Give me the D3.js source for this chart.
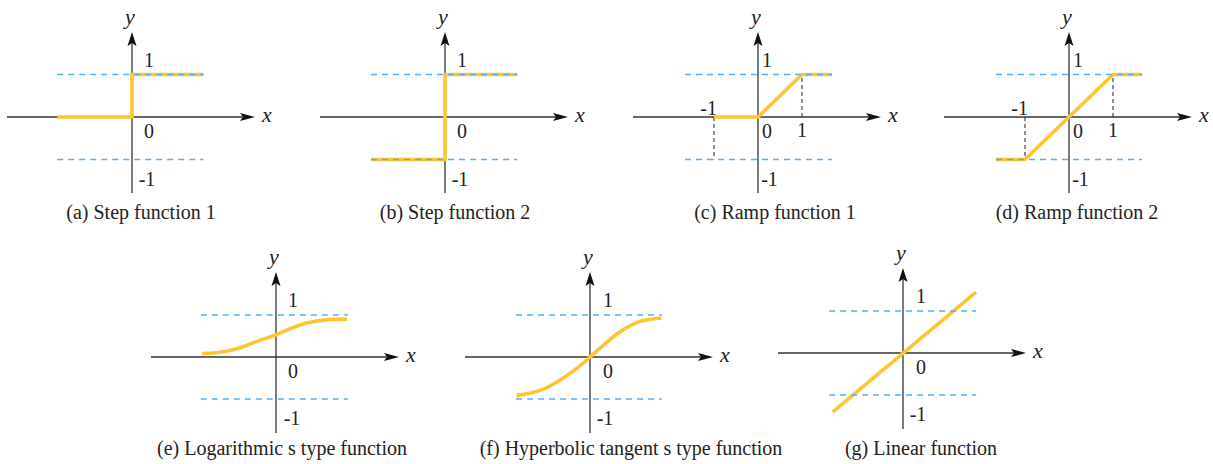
<!DOCTYPE html>
<html>
<head>
<meta charset="utf-8">
<script src="https://cdn.jsdelivr.net/npm/d3@7"></script>
<style>
  body { margin: 0; background: #fff; }
  svg { display: block; }
  .axis-line { stroke: #333; stroke-width: 1.3; fill: none; }
  .arrow { fill: #111; }
  .guide { stroke: #4db3f6; stroke-width: 1.3; stroke-dasharray: 6 5; fill: none; }
  .drop { stroke: #333; stroke-width: 1.1; stroke-dasharray: 4 3; fill: none; }
  .curve { stroke: #fdc531; stroke-width: 3.6; fill: none; stroke-linejoin: miter; }
</style>
</head>
<body>
<div id="chart"></div>
<script>
// captions of the seven sub-figures
const captions = [
  '(a) Step function 1',
  '(b) Step function 2',
  '(c) Ramp function 1',
  '(d) Ramp function 2',
  '(e) Logarithmic s type function',
  '(f) Hyperbolic tangent s type function',
  '(g) Linear function'
];

// function values, [x, y] in axis units
const stepOne = [[-1.76, 0], [0, 0], [0, 1], [1.68, 1]];
const stepTwo = [[-1.74, -1], [0, -1], [0, 1], [1.7, 1]];
const rampOne = [[-1, 0], [0, 0], [1, 1], [1.68, 1]];
const rampTwo = [[-1.66, -1], [-1, -1], [1, 1], [1.66, 1]];
const logSig = [[-1.76, 0.08], [-1.29, 0.12], [-0.89, 0.21], [-0.49, 0.36], [0, 0.53],
  [0.38, 0.69], [0.78, 0.82], [1.25, 0.89], [1.69, 0.9]];
const tanSig = [[-1.75, -0.92], [-1.17, -0.79], [-0.7, -0.54], [-0.3, -0.26], [0, 0],
  [0.33, 0.29], [0.73, 0.61], [1.2, 0.85], [1.7, 0.93]];
const linear = [[-1.67, -1.4], [1.74, 1.45]];

const series = [stepOne, stepTwo, rampOne, rampTwo, logSig, tanSig, linear];
const smooth = [false, false, false, false, true, true, false];

// guide lines y = 1 / y = -1 span (x units)
const guideSpan = [[-1.76, 1.68], [-1.74, 1.7], [-1.66, 1.68], [-1.66, 1.66],
  [-1.79, 1.71], [-1.76, 1.71], [-1.76, 1.74]];
// ramp breakpoints with vertical drop lines
const drops = [[], [], [[-1, -1], [1, 1]], [[-1, -1], [1, 1]], [], [], []];
// tick labels along x
const xTicks = [[], [], [-1, 1], [-1, 1], [], [], []];

// layout: origin, unit sizes and label offsets (pixels)
const layout = [
  {ox: 132, oy: 117, ux: 42.5, uy: 42.5, lx: 17, nx: 15, cx: 141},
  {ox: 445, oy: 117, ux: 42.5, uy: 42.5, lx: 17, nx: 15, cx: 455},
  {ox: 758, oy: 117, ux: 44, uy: 42.5, lx: 9, nx: 11.5, cx: 775},
  {ox: 1069, oy: 117, ux: 44, uy: 42.5, lx: 9, nx: 11.5, cx: 1077},
  {ox: 276, oy: 357, ux: 42, uy: 42, lx: 17, nx: 16, cx: 282},
  {ox: 590, oy: 357, ux: 42, uy: 42, lx: 18, nx: 15, cx: 631},
  {ox: 903, oy: 353, ux: 42, uy: 42, lx: 18, nx: 15, cx: 921}
];
const captionY = [219, 219, 219, 219, 455, 455, 455];

const FONT = 'Liberation Serif';
const width = 1213, height = 464;

const svg = d3.select('#chart')
  .append('svg')
  .attr('width', width)
  .attr('height', height);

// small helper for text nodes
function label(g, x, y, txt, size, anchor, italic) {
  return g.append('text')
    .attr('x', x).attr('y', y)
    .attr('font-family', FONT)
    .attr('font-size', size)
    .attr('font-style', italic ? 'italic' : 'normal')
    .attr('fill', '#222')
    .attr('text-anchor', anchor)
    .text(txt);
}

layout.forEach((p, i) => {
  const x = d3.scaleLinear().domain([-1, 1]).range([p.ox - p.ux, p.ox + p.ux]);
  const y = d3.scaleLinear().domain([-1, 1]).range([p.oy + p.uy, p.oy - p.uy]);
  const g = svg.append('g').attr('class', `panel panel-${i}`);

  const line = d3.line()
    .x(d => x(d[0]))
    .y(d => y(d[1]))
    .curve(smooth[i] ? d3.curveCatmullRom : d3.curveLinear);

  // axes
  const xLeft = p.ox - 125, xTip = p.ox + 123;
  const yTop = p.oy - 85, yBottom = p.oy + 76;
  g.append('line').attr('class', 'axis-line')
    .attr('x1', xLeft).attr('x2', xTip - 8).attr('y1', p.oy).attr('y2', p.oy);
  g.append('line').attr('class', 'axis-line')
    .attr('x1', p.ox).attr('x2', p.ox).attr('y1', yBottom).attr('y2', yTop + 8);
  g.append('path').attr('class', 'arrow')
    .attr('d', `M${xTip},${p.oy}L${xTip - 15},${p.oy - 4}L${xTip - 12},${p.oy}L${xTip - 15},${p.oy + 4}Z`);
  g.append('path').attr('class', 'arrow')
    .attr('d', `M${p.ox},${yTop}L${p.ox - 4.5},${yTop + 14}L${p.ox},${yTop + 11}L${p.ox + 4.5},${yTop + 14}Z`);

  // drop lines for ramp breakpoints
  g.selectAll('.drop')
    .data(drops[i])
    .enter()
    .append('line')
    .attr('class', 'drop')
    .attr('x1', d => x(d[0])).attr('x2', d => x(d[0]))
    .attr('y1', y(0)).attr('y2', d => y(d[1]));

  // function curve
  g.append('path')
    .datum(series[i])
    .attr('class', 'curve')
    .attr('d', line);

  // guide lines at y = 1 and y = -1
  g.selectAll('.guide')
    .data([1, -1])
    .enter()
    .append('line')
    .attr('class', 'guide')
    .attr('x1', x(guideSpan[i][0])).attr('x2', x(guideSpan[i][1]))
    .attr('y1', d => y(d)).attr('y2', d => y(d));

  // labels
  label(g, p.ox - 2, p.oy - 93, 'y', 22, 'middle', true);
  label(g, xTip + 7, p.oy + 5, 'x', 22, 'start', true);
  label(g, p.ox + p.lx, y(1) - 8, '1', 20, 'middle');
  label(g, p.ox + p.lx, p.oy + 21, '0', 20, 'middle');
  label(g, p.ox + p.nx, y(-1) + 26, '-1', 20, 'middle');

  xTicks[i].forEach(t => {
    if (t < 0) label(g, x(t) + 3, p.oy - 2, String(t), 20, 'end');
    else label(g, x(t), p.oy + 20, String(t), 20, 'middle');
  });

  label(g, p.cx, captionY[i], captions[i], 20, 'middle');
});
</script>
</body>
</html>
